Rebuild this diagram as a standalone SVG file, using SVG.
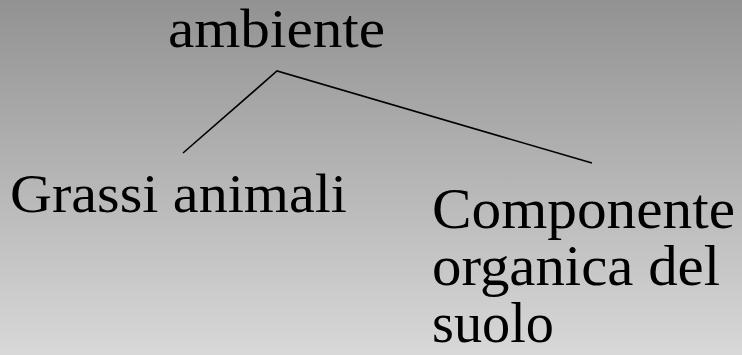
<svg xmlns="http://www.w3.org/2000/svg" width="742" height="355" viewBox="0 0 742 355">
<defs>
<linearGradient id="bg" x1="0" y1="0" x2="0" y2="1">
<stop offset="0" stop-color="#929292"/>
<stop offset="1" stop-color="#d8d8d8"/>
</linearGradient>
<style>
.t{font-family:"Liberation Serif","DejaVu Serif",serif;font-size:54px;fill:#000}
.b{font-size:56px}
.c{fill:none;stroke:#000;stroke-width:1.6}
</style>
</defs>
<rect x="0" y="0" width="742" height="355" fill="url(#bg)"/>
<g id="connectors">
<polyline class="c" points="183,153 277,71 592,163"/>
</g>
<g id="ambiente"><text class="t" x="168" y="47" textLength="217" lengthAdjust="spacingAndGlyphs">ambiente</text></g>
<g id="grassi"><text class="t" x="10" y="212" textLength="337" lengthAdjust="spacingAndGlyphs">Grassi animali</text></g>
<g id="componente">
<text class="t b" x="432" y="228" textLength="303" lengthAdjust="spacingAndGlyphs">Componente</text>
<text class="t b" x="432" y="285" textLength="288" lengthAdjust="spacingAndGlyphs">organica del</text>
<text class="t b" x="432" y="342" textLength="122" lengthAdjust="spacingAndGlyphs">suolo</text>
</g>
</svg>
